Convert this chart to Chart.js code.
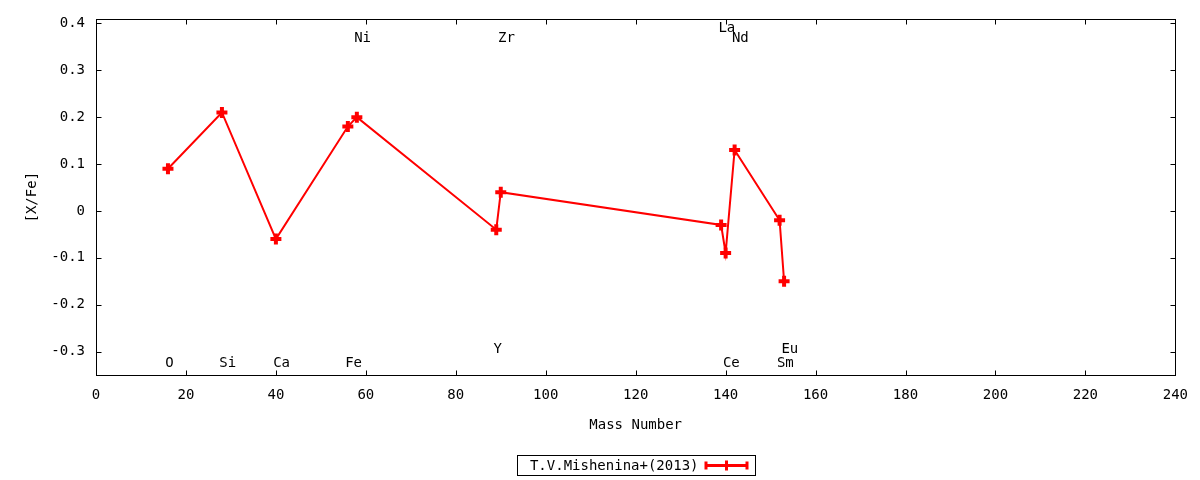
<!DOCTYPE html>
<html><head><meta charset="utf-8">
<script src="https://cdn.jsdelivr.net/npm/chart.js@4/dist/chart.umd.min.js"></script>
<style>html,body{margin:0;padding:0;background:#fff}</style>
</head><body>
<canvas id="c" width="1200" height="480"></canvas>
<script>
const elements = ['O','Si','Ca','Fe','Ni','Y','Zr','La','Ce','Nd','Sm','Eu'];
const massNumbers = [16,28,40,56,58,89,90,139,140,142,152,153];
const xfeValues = [0.09,0.21,-0.06,0.18,0.20,-0.04,0.04,-0.03,-0.09,0.13,-0.02,-0.15];
const labelYValues = [-0.325,-0.325,-0.325,-0.325,0.368,-0.295,0.368,0.39,-0.325,0.368,-0.325,-0.295];
const xTickValues = [0,20,40,60,80,100,120,140,160,180,200,220,240];
const yTickValues = [-0.3,-0.2,-0.1,0,0.1,0.2,0.3,0.4];
const seriesName = 'T.V.Mishenina+(2013)';
const xTitle = 'Mass Number';
const yTitle = '[X/Fe]';

const FONT = "'DejaVu Sans Mono', monospace";
Chart.defaults.font.family = FONT;
Chart.defaults.font.size = 14;
Chart.defaults.color = '#000';

const decor = {
  id: 'decor',
  afterDraw(chart) {
    const {ctx, chartArea: a, scales: {x, y}} = chart;
    ctx.save();
    ctx.strokeStyle = '#000';
    ctx.lineWidth = 1;
    const L = Math.round(a.left) + 0.5, R = Math.round(a.right) + 0.5;
    const T = Math.round(a.top) + 0.5, B = Math.round(a.bottom) + 0.5;
    ctx.strokeRect(L, T, R - L, B - T);
    const tl = 5;
    ctx.beginPath();
    xTickValues.forEach(v => {
      const px = Math.round(x.getPixelForValue(v)) + 0.5;
      ctx.moveTo(px, B); ctx.lineTo(px, B - tl);
      ctx.moveTo(px, T); ctx.lineTo(px, T + tl);
    });
    yTickValues.forEach(v => {
      const py = Math.round(y.getPixelForValue(v)) + 0.5;
      ctx.moveTo(L, py); ctx.lineTo(L + tl, py);
      ctx.moveTo(R, py); ctx.lineTo(R - tl, py);
    });
    ctx.stroke();
    // element labels
    ctx.fillStyle = '#000';
    ctx.font = '14px ' + FONT;
    ctx.textAlign = 'left';
    ctx.textBaseline = 'middle';
    elements.forEach((el, i) => {
      ctx.fillText(el, x.getPixelForValue(massNumbers[i] - 0.6), y.getPixelForValue(labelYValues[i]));
    });
    // legend
    const cx = (a.left + a.right) / 2;
    const bw = 238, bh = 20;
    const bl = Math.round(cx - bw / 2) + 0.5, bt = 455.5;
    ctx.strokeRect(bl, bt, bw, bh);
    ctx.textAlign = 'right';
    ctx.fillText(seriesName, bl + 181, bt + bh / 2 + 1);
    const sy = bt + bh / 2, sx0 = bl + 188, sx1 = bl + 230;
    ctx.strokeStyle = '#ff0000';
    ctx.fillStyle = '#ff0000';
    ctx.lineWidth = 3;
    ctx.beginPath(); ctx.moveTo(sx0, sy); ctx.lineTo(sx1, sy); ctx.stroke();
    ctx.fillRect(sx0 - 1, sy - 4, 3, 8);
    ctx.fillRect(sx1 - 2, sy - 4, 3, 8);
    const mx = (sx0 + sx1) / 2;
    ctx.beginPath(); ctx.moveTo(mx, sy - 5); ctx.lineTo(mx, sy + 5); ctx.stroke();
    ctx.restore();
  }
};

new Chart(document.getElementById('c'), {
  type: 'line',
  data: {
    datasets: [{
      label: seriesName,
      data: massNumbers.map((m, i) => ({x: m, y: xfeValues[i]})),
      borderColor: '#ff0000',
      backgroundColor: '#ff0000',
      borderWidth: 2,
      pointStyle: 'cross',
      pointRadius: 5.5,
      pointBorderWidth: 4,
      tension: 0,
      fill: false
    }]
  },
  options: {
    responsive: false,
    animation: false,
    devicePixelRatio: 1,
    layout: {padding: {left: 0, right: 23, top: 17, bottom: 0}},
    plugins: {legend: {display: false}, tooltip: {enabled: false}},
    scales: {
      x: {
        type: 'linear', min: 0, max: 240,
        grid: {display: false, drawTicks: false},
        border: {display: false},
        afterBuildTicks: s => { s.ticks = xTickValues.map(v => ({value: v})); },
        ticks: {padding: 12, maxRotation: 0, autoSkip: false},
        title: {display: true, text: xTitle, padding: {top: 0, bottom: 46}},
        afterFit: s => { s.height = 105; }
      },
      y: {
        type: 'linear', min: -0.35, max: 0.4085,
        grid: {display: false, drawTicks: false},
        border: {display: false},
        afterBuildTicks: s => { s.ticks = yTickValues.map(v => ({value: v})); },
        ticks: {padding: 11, autoSkip: false},
        title: {display: true, text: yTitle, padding: {top: 24, bottom: 0}},
        afterFit: s => { s.width = 96; }
      }
    }
  },
  plugins: [decor]
});
</script>
</body></html>
